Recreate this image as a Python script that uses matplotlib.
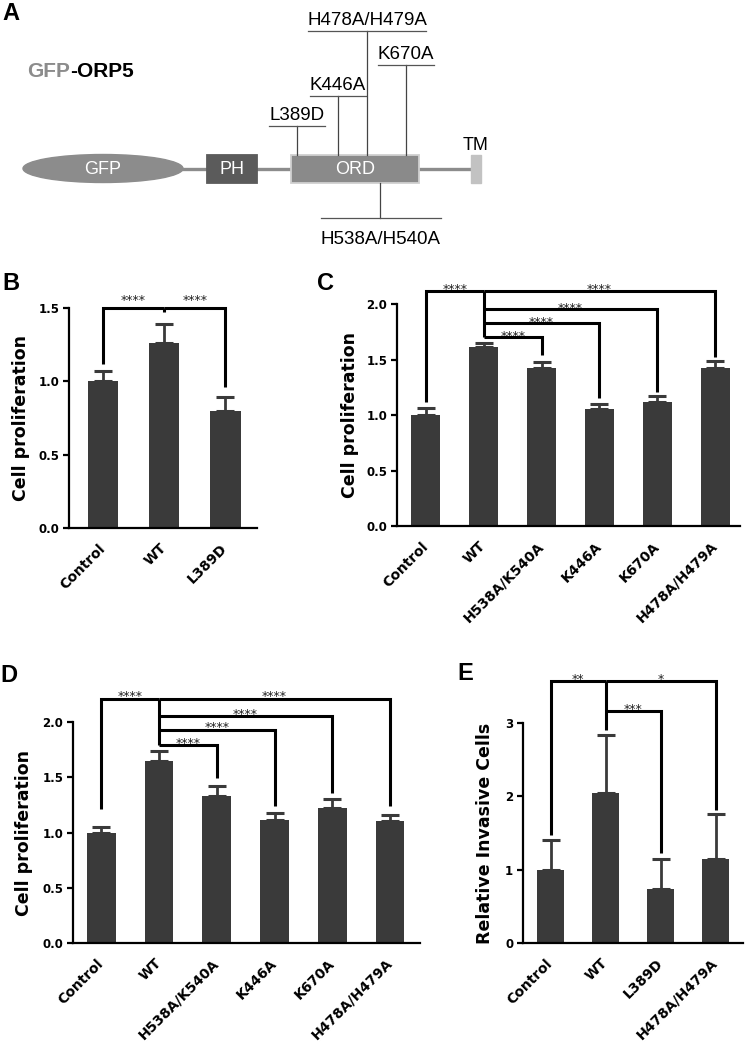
import matplotlib
matplotlib.use('Agg')
import matplotlib.pyplot as plt
from matplotlib.patches import Ellipse, Rectangle
from matplotlib.transforms import ScaledTranslation

plt.rcParams['font.family'] = ['Liberation Sans', 'DejaVu Sans']

# ---- data ----
b_labels = ['Control', 'WT', 'L389D']
b_means = [1.00, 1.26, 0.80]
b_errs = [0.07, 0.13, 0.09]
# (target bar, bracket height, leg bottom, stars)
b_comps = [(0, 1.50, 1.12, '****'), (2, 1.50, 0.96, '****')]
b_stem = 1.47

c_labels = ['Control', 'WT', 'H538A/K540A', 'K446A', 'K670A', 'H478A/H479A']
c_means = [1.00, 1.61, 1.42, 1.05, 1.12, 1.42]
c_errs = [0.06, 0.04, 0.06, 0.05, 0.05, 0.07]
c_comps = [(0, 2.12, 1.12, '****'), (5, 2.12, 1.52, '****'),
           (4, 1.955, 1.21, '****'), (3, 1.83, 1.15, '****'),
           (2, 1.70, 1.54, '****')]
c_stem = 1.70

d_labels = c_labels
d_means = [1.00, 1.65, 1.33, 1.11, 1.22, 1.10]
d_errs = [0.05, 0.09, 0.09, 0.07, 0.08, 0.06]
d_comps = [(0, 2.21, 1.21, '****'), (5, 2.21, 1.24, '****'),
           (4, 2.05, 1.36, '****'), (3, 1.93, 1.24, '****'),
           (2, 1.79, 1.49, '****')]
d_stem = 1.79

e_labels = ['Control', 'WT', 'L389D', 'H478A/H479A']
e_means = [1.00, 2.04, 0.73, 1.15]
e_errs = [0.40, 0.80, 0.41, 0.61]
e_comps = [(0, 3.57, 1.47, '**'), (3, 3.57, 1.82, '*'),
           (2, 3.17, 1.23, '***')]
e_stem = 2.91

# domain diagram (pixel layout of panel A)
domain_names = ['PH', 'ORD']
domain_x = [(207, 257), (291, 419)]
domain_colors = ['#5b5b5b', '#8a8a8a']
mut_labels = ['L389D', 'K446A', 'H478A/H479A', 'K670A']
mut_x = [297, 338, 367, 406]
mut_top = [126, 96, 31, 65]
mut_half = [28, 28, 59, 28]

bar_color = '#3a3a3a'
W, H = 745, 1051

fig = plt.figure(figsize=(W / 100, H / 100), dpi=100)


def px_axes(left, top, right, bottom):
    return fig.add_axes([left / W, 1 - bottom / H, (right - left) / W, (bottom - top) / H])


# ---- panel A ----
axa = fig.add_axes([0, 1 - 250 / H, 1, 250 / H])
axa.set_xlim(0, W)
axa.set_ylim(250, 0)
axa.axis('off')
axa.plot([150, 476], [168.5, 168.5], color='#8c8c8c', lw=2.4, zorder=1)
axa.add_patch(Ellipse((103, 168.5), 160, 28, color='#8c8c8c', zorder=2))
axa.text(103, 169, 'GFP', color='white', fontsize=13, ha='center', va='center', zorder=3)
for name, (x0, x1), col in zip(domain_names, domain_x, domain_colors):
    ec = '#d0d0d0' if name == 'ORD' else col
    axa.add_patch(Rectangle((x0, 155), x1 - x0, 28, facecolor=col, edgecolor=ec, lw=1.3, zorder=2))
    axa.text((x0 + x1) / 2, 169, name, color='white', fontsize=13, ha='center', va='center', zorder=3)
axa.add_patch(Rectangle((471, 155), 10, 28, color='#c2c2c2', zorder=2))
axa.text(476, 150, 'TM', fontsize=13, ha='center', va='baseline')
for lab, x, top, half in zip(mut_labels, mut_x, mut_top, mut_half):
    axa.plot([x, x], [top, 155], color='#444444', lw=0.9)
    axa.plot([x - half, x + half], [top, top], color='#555555', lw=0.9)
    axa.text(x, top - 6, lab, fontsize=13.5, ha='center', va='baseline')
axa.plot([380, 380], [183, 218], color='#444444', lw=0.9)
axa.plot([321, 441], [218, 218], color='#555555', lw=0.9)
axa.text(381, 244, 'H538A/H540A', fontsize=13.5, ha='center', va='baseline')
t1 = axa.text(27, 77, 'GFP', fontsize=15, fontweight='bold', color='#8c8c8c', va='baseline')
axa.annotate('-ORP5', xy=(1, 0), xycoords=t1, fontsize=15, fontweight='bold',
             color='black', va='bottom', ha='left')


# ---- bar panels ----
def bar_panel(ax, labels, means, errs, comps, stem, ymax, step, ylabel, fmt, xlim, star_dy):
    xs = list(range(len(labels)))
    ax.bar(xs, means, width=0.5, color=bar_color, zorder=2)
    ax.errorbar(xs, means, yerr=[[0] * len(errs), errs], fmt='none', ecolor=bar_color,
                elinewidth=2.0, capsize=6.5, capthick=2.2, zorder=1)
    ax.set_xlim(*xlim)
    ax.set_ylim(0, ymax)
    ticks = []
    v = 0.0
    while v <= ymax + 1e-9:
        ticks.append(v)
        v += step
    ax.set_yticks(ticks)
    ax.set_yticklabels([fmt.format(t) for t in ticks], fontfamily='DejaVu Sans',
                       fontweight='bold', fontsize=8.5)
    ax.set_xticks(xs)
    ax.set_xticklabels(labels, rotation=45, ha='right', va='center', rotation_mode='anchor',
                       fontfamily='DejaVu Sans', fontweight='bold', fontsize=10)
    for lbl in ax.get_xticklabels():
        lbl.set_transform(lbl.get_transform() + ScaledTranslation(0.08, 0, fig.dpi_scale_trans))
    ax.tick_params(axis='x', length=0, pad=13)
    ax.tick_params(axis='y', length=4, width=1.6, direction='out', pad=3)
    for s in ['top', 'right']:
        ax.spines[s].set_visible(False)
    for s in ['left', 'bottom']:
        ax.spines[s].set_linewidth(1.6)
    ax.set_ylabel(ylabel, fontfamily='DejaVu Sans', fontweight='bold', fontsize=12.5)

    top = max(c[1] for c in comps)
    for target, h, leg, stars in comps:
        ax.plot([1, target, target], [h, h, leg], color='black', lw=2.2, clip_on=False,
                solid_joinstyle='miter', solid_capstyle='butt', zorder=4)
        ax.annotate(stars, ((1 + target) / 2, h), xytext=(0, star_dy), textcoords='offset points',
                    ha='center', va='baseline', fontsize=9, fontfamily='DejaVu Sans',
                    color='#222222', annotation_clip=False)
    ax.plot([1, 1], [top, stem], color='black', lw=2.2, clip_on=False,
            solid_capstyle='butt', zorder=4)


axb = px_axes(69, 308, 257, 528)
bar_panel(axb, b_labels, b_means, b_errs, b_comps, b_stem, 1.5, 0.5, 'Cell proliferation',
          '{:.1f}', (-0.557, 2.52), 3.0)
axb.yaxis.set_label_coords(-0.21, 0.5)

axc = px_axes(397, 304, 740, 526)
bar_panel(axc, c_labels, c_means, c_errs, c_comps, c_stem, 2.0, 0.5, 'Cell proliferation',
          '{:.1f}', (-0.5, 5.43), -2.0)
axc.yaxis.set_label_coords(-0.11, 0.5)

axd = px_axes(73, 722, 420, 943)
bar_panel(axd, d_labels, d_means, d_errs, d_comps, d_stem, 2.0, 0.5, 'Cell proliferation',
          '{:.1f}', (-0.49, 5.52), -1.0)
axd.yaxis.set_label_coords(-0.115, 0.5)

axe = px_axes(523, 723, 743, 943)
bar_panel(axe, e_labels, e_means, e_errs, e_comps, e_stem, 3, 1, 'Relative Invasive Cells',
          '{:.0f}', (-0.5, 3.5), -1.5)
axe.yaxis.set_label_coords(-0.13, 0.5)

# panel letters
for letter, x, y in [('A', 2, 20), ('B', 2, 290), ('C', 317, 290), ('D', 0, 682), ('E', 457, 680)]:
    fig.text(x / W, 1 - y / H, letter, fontsize=17, fontweight='bold', va='baseline', ha='left')

fig.savefig('out.png', dpi=100)
